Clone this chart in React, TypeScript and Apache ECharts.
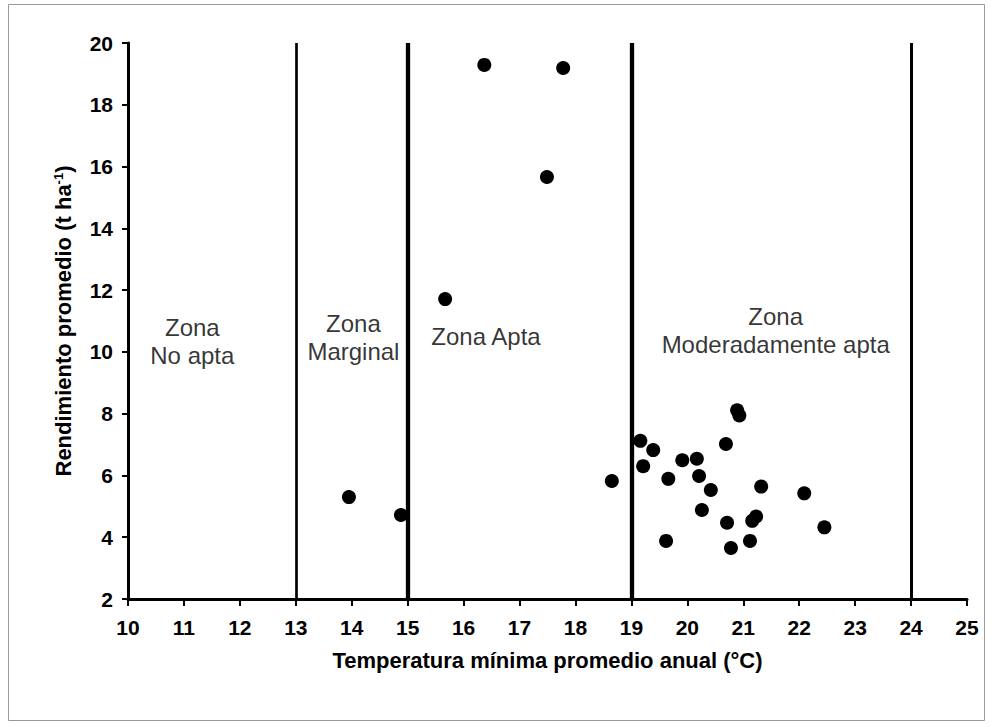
import React, { useEffect, useRef } from "react";
import * as echarts from "echarts";

const temperatura: number[] = [13.95, 14.88, 15.67, 16.37, 17.49, 17.78, 18.65, 19.16, 19.39, 19.21, 19.66, 19.91, 20.17, 20.21, 20.42, 20.26, 19.62, 20.69, 20.89, 20.93, 21.32, 20.71, 21.16, 21.23, 20.78, 21.12, 22.09, 22.45];
const rendimiento: number[] = [5.3, 4.72, 11.71, 19.29, 15.66, 19.19, 5.82, 7.12, 6.82, 6.3, 5.89, 6.49, 6.54, 5.98, 5.53, 4.88, 3.88, 7.02, 8.11, 7.94, 5.64, 4.47, 4.53, 4.67, 3.65, 3.88, 5.42, 4.32];

const zoneBounds: number[] = [13, 15, 19, 24];
const zoneWidths: number[] = [2.7, 4.3, 4.3, 3];

const zoneLabels: { text: string; x: number; y: number }[] = [
  { text: "Zona\nNo apta", x: 11.15, y: 10.35 },
  { text: "Zona\nMarginal", x: 14.03, y: 10.45 },
  { text: "Zona Apta", x: 16.4, y: 10.5 },
  { text: "Zona\nModeradamente apta", x: 21.58, y: 10.7 },
];

const FONT = "Liberation Sans, Arial, sans-serif";

export default function App() {
  const ref = useRef<HTMLDivElement>(null);
  useEffect(() => {
    if (!ref.current) return;
    const chart = echarts.init(ref.current, undefined, { renderer: "svg" });
    const data = temperatura.map((t, i) => [t, rendimiento[i]]);
    chart.setOption({
      animation: false,
      backgroundColor: "#ffffff",
      textStyle: { fontFamily: FONT },
      grid: { left: 128, right: 25, top: 43, bottom: 128 },
      xAxis: {
        type: "value",
        min: 10,
        max: 25,
        interval: 1,
        name: "Temperatura mínima promedio anual (°C)",
        nameLocation: "middle",
        nameGap: 50,
        nameTextStyle: { color: "#000", fontWeight: "bold", fontSize: 22, fontFamily: FONT },
        axisLine: { show: true, onZero: false, lineStyle: { color: "#000", width: 3 } },
        axisTick: { show: true, inside: false, length: 7, lineStyle: { color: "#000", width: 2 } },
        axisLabel: { color: "#000", fontWeight: "bold", fontSize: 21, margin: 18, fontFamily: FONT },
        splitLine: { show: false },
      },
      yAxis: {
        type: "value",
        min: 2,
        max: 20,
        interval: 2,
        name: "{a|Rendimiento promedio (t ha}{b|-1}{a|)}",
        nameLocation: "middle",
        nameRotate: 90,
        nameGap: 53,
        nameTextStyle: {
          rich: {
            a: { color: "#000", fontWeight: "bold", fontSize: 22, fontFamily: FONT },
            b: { color: "#000", fontWeight: "bold", fontSize: 13, verticalAlign: "top", padding: [0, 0, 10, 0], fontFamily: FONT },
          },
        },
        axisLine: { show: true, onZero: false, lineStyle: { color: "#000", width: 3 } },
        axisTick: { show: true, inside: false, length: 6, lineStyle: { color: "#000", width: 2 } },
        axisLabel: { color: "#000", fontWeight: "bold", fontSize: 21, margin: 15, fontFamily: FONT },
        splitLine: { show: false },
      },
      series: [
        {
          type: "scatter",
          data,
          symbol: "circle",
          symbolSize: 14,
          itemStyle: { color: "#000", opacity: 1 },
          z: 3,
          markLine: {
            silent: true,
            symbol: "none",
            label: { show: false },
            data: zoneBounds.map((v, i) => ({ xAxis: v, lineStyle: { color: "#000", width: zoneWidths[i], type: "solid", opacity: 1 } })),
          },
        },
        {
          type: "scatter",
          data: zoneLabels.map((z) => [z.x, z.y, z.text]),
          symbolSize: 0,
          silent: true,
          label: {
            show: true,
            position: "inside",
            formatter: (p: any) => p.data[2],
            color: "#000",
            fontSize: 24,
            lineHeight: 28,
            align: "center",
            fontFamily: FONT,
          },
        },
      ],
      graphic: [
        {
          type: "rect",
          shape: { x: 8.5, y: 4.5, width: 976, height: 716 },
          style: { fill: "none", stroke: "#999", lineWidth: 1 },
          silent: true,
          z: -1,
        },
      ],
    });
    return () => chart.dispose();
  }, []);
  return <div ref={ref} style={{ position: "fixed", left: 0, top: 0, width: 992, height: 727 }} />;
}
